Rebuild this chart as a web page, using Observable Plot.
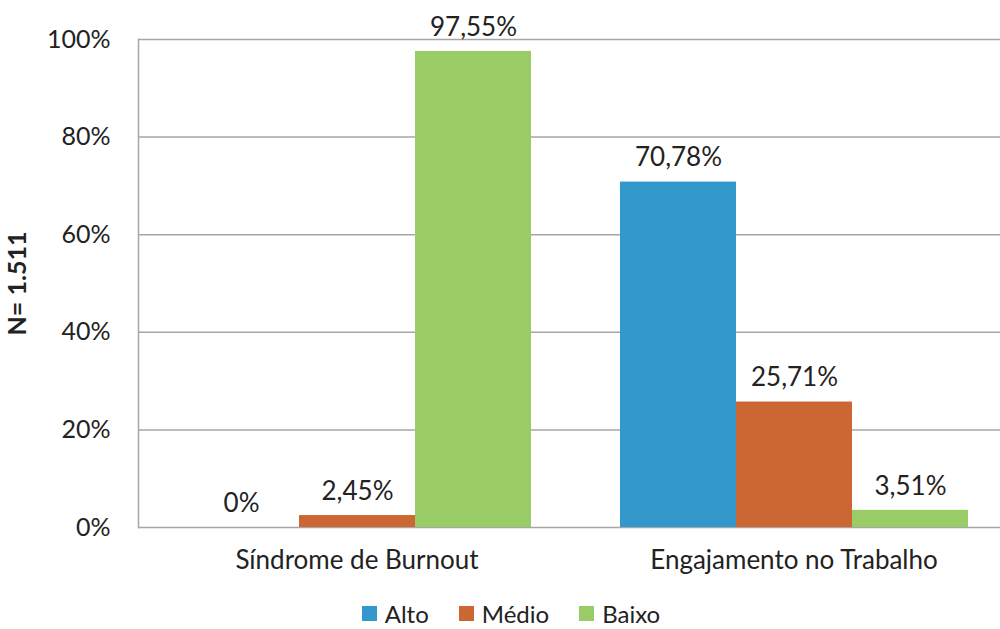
<!DOCTYPE html>
<html>
<head>
<meta charset="utf-8">
<script src="https://cdn.jsdelivr.net/npm/d3@7"></script>
<script src="https://cdn.jsdelivr.net/npm/@observablehq/plot@0.6"></script>
<style>
  body { margin: 0; background: #fff; font-family: Lato, sans-serif; }
  #wrap { width: 1000px; height: 629px; overflow: hidden; position: relative; }
  #wrap svg { max-width: none !important; display: block; }
  g[aria-label="y-axis label"] text { font-weight: bold; }
  #legend { position: absolute; left: 0; width: 1000px; top: 599px; height: 29px; line-height: 29px; display: flex; justify-content: center; align-items: center; gap: 30px; font-size: 24px; color: #222; padding-left: 22px; box-sizing: border-box; }
  #legend .item { display: flex; align-items: center; gap: 8px; }
  #legend .sw { width: 15px; height: 15px; display: inline-block; }
</style>
</head>
<body>
<div id="wrap"></div>
<script>
const categories = ["Síndrome de Burnout", "Engajamento no Trabalho"];
const series = ["Alto", "Médio", "Baixo"];
const burnout = [0, 2.45, 97.55];
const engajamento = [70.78, 25.71, 3.51];
const yTicks = [0, 20, 40, 60, 80, 100];
const colors = ["#3399CC", "#CC6633", "#99CC66"];
const yLabel = "N= 1.511";

const values = [burnout, engajamento];
const data = categories.flatMap((c, i) => series.map((s, j) => ({cat: c, serie: s, value: values[i][j]})));
const fmt = v => v === 0 ? "0%" : v.toFixed(2).replace(".", ",") + "%";

const chart = Plot.plot({
  width: 1012,
  height: 590,
  marginLeft: 137,
  marginRight: 0,
  marginTop: 39,
  marginBottom: 63,
  style: {fontFamily: "Lato, sans-serif", fontSize: "26px", color: "#222", background: "#fff", maxWidth: "none"},
  fx: {domain: categories, padding: 0, label: null},
  x: {domain: series, paddingInner: 0, paddingOuter: 0.375, axis: null},
  y: {domain: [0, 100]},
  color: {domain: series, range: colors},
  marks: [
    Plot.gridY(yTicks, {stroke: "#a6a6a6", strokeOpacity: 1, strokeWidth: 1.5}),
    Plot.frame({anchor: "left", facetAnchor: "left", stroke: "#a6a6a6", strokeWidth: 1.5}),
    Plot.axisY(yTicks, {tickSize: 0, tickPadding: 28, tickFormat: d => d + "%", label: yLabel, labelAnchor: "center", labelArrow: "none", labelOffset: 130, fontSize: 25}),
    Plot.axisFx({anchor: "bottom", tickSize: 0, tickPadding: 23, label: null, fontSize: 26}),
    Plot.barY(data, {fx: "cat", x: "serie", y: "value", fill: "serie"}),
    Plot.text(data, {fx: "cat", x: "serie", y: "value", text: d => fmt(d.value), dy: -24, fontSize: 26, fill: "#222"})
  ]
});
document.getElementById("wrap").appendChild(chart);

const legend = document.createElement("div");
legend.id = "legend";
series.forEach((s, i) => {
  const item = document.createElement("div");
  item.className = "item";
  const sw = document.createElement("span");
  sw.className = "sw";
  sw.style.background = colors[i];
  const t = document.createElement("span");
  t.textContent = s;
  item.appendChild(sw);
  item.appendChild(t);
  legend.appendChild(item);
});
document.getElementById("wrap").appendChild(legend);
</script>
</body>
</html>
